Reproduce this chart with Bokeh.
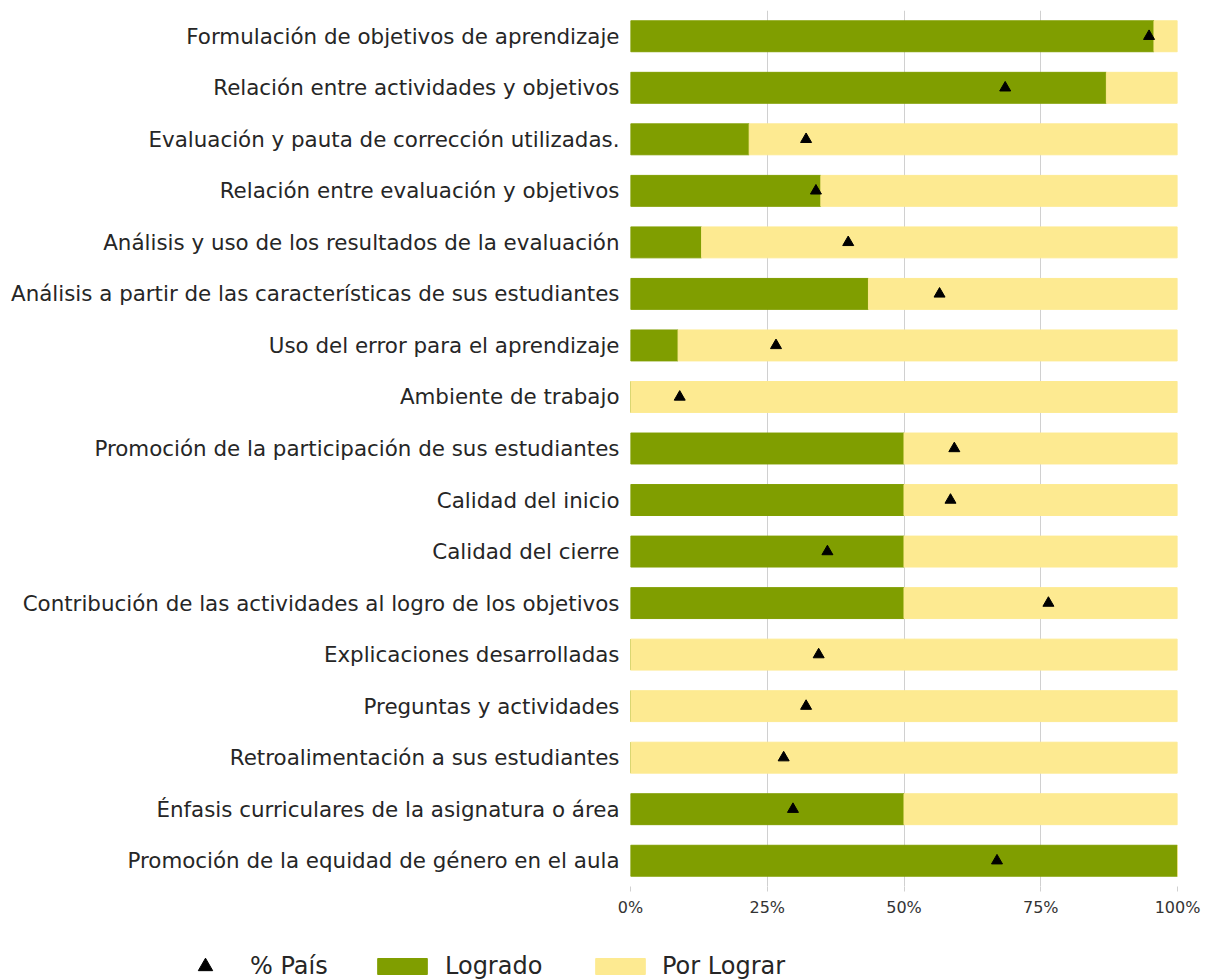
from bokeh.plotting import figure
from bokeh.models import ColumnDataSource, Legend, LegendItem, FactorRange, Range1d, FixedTicker
from bokeh.embed import file_html
from bokeh.resources import INLINE

categories = [
    "Formulación de objetivos de aprendizaje",
    "Relación entre actividades y objetivos",
    "Evaluación y pauta de corrección utilizadas.",
    "Relación entre evaluación y objetivos",
    "Análisis y uso de los resultados de la evaluación",
    "Análisis a partir de las características de sus estudiantes",
    "Uso del error para el aprendizaje",
    "Ambiente de trabajo",
    "Promoción de la participación de sus estudiantes",
    "Calidad del inicio",
    "Calidad del cierre",
    "Contribución de las actividades al logro de los objetivos",
    "Explicaciones desarrolladas",
    "Preguntas y actividades",
    "Retroalimentación a sus estudiantes",
    "Énfasis curriculares de la asignatura o área",
    "Promoción de la equidad de género en el aula",
]
logrado = [95.7, 87.0, 21.7, 34.8, 13.0, 43.5, 8.7, 0, 50, 50, 50, 50, 0, 0, 0, 50, 100]
por_lograr = [4.3, 13.0, 78.3, 65.2, 87.0, 56.5, 91.3, 100, 50, 50, 50, 50, 100, 100, 100, 50, 0]
pais = [94.8, 68.5, 32.1, 33.9, 39.8, 56.5, 26.6, 9.0, 59.2, 58.5, 36.0, 76.4, 34.4, 32.1, 28.0, 29.7, 67.0]
tick_values = [0, 25, 50, 75, 100]
tick_labels = ["0%", "25%", "50%", "75%", "100%"]
legend_labels = ["% País", "Logrado", "Por Lograr"]

GREEN = "#809E00"
YELLOW = "#FDEA91"
FONT = "DejaVu Sans"
TEXT = "#262626"

src = ColumnDataSource(dict(cat=categories, logrado=logrado, por_lograr=por_lograr, pais=pais))

p = figure(
    width=1216, height=920,
    y_range=FactorRange(factors=list(reversed(categories))),
    x_range=Range1d(0, 100),
    output_backend="svg", toolbar_location=None,
    min_border_left=630, min_border_right=39, min_border_top=10, min_border_bottom=34,
)
p.outline_line_color = None
p.background_fill_color = "white"
p.border_fill_color = "white"

bars = p.hbar_stack(["logrado", "por_lograr"], y="cat", height=0.6, color=[GREEN, YELLOW], source=src)
tri = p.scatter(x="pais", y="cat", marker="triangle", size=11, color="black", source=src)

p.xaxis.ticker = FixedTicker(ticks=tick_values)
p.xaxis.major_label_overrides = {v: l for v, l in zip(tick_values, tick_labels)}
p.xaxis.axis_line_color = None
p.xaxis.major_tick_line_color = "#d0d0d0"
p.xaxis.major_tick_out = 5
p.xaxis.major_tick_in = 0
p.xaxis.minor_tick_line_color = None
p.xaxis.major_label_text_font = FONT
p.xaxis.major_label_text_font_size = "16px"
p.xaxis.major_label_text_color = "#333333"
p.xaxis.major_label_standoff = 6

p.yaxis.axis_line_color = None
p.yaxis.major_tick_line_color = None
p.yaxis.minor_tick_line_color = None
p.yaxis.major_label_text_font = FONT
p.yaxis.major_label_text_font_size = "21.4px"
p.yaxis.major_label_text_color = TEXT
p.yaxis.major_label_standoff = 5

p.xgrid.grid_line_color = "#d0d0d0"
p.xgrid.grid_line_width = 1
p.ygrid.grid_line_color = None

# legend strip below the chart (separate root, frame covers the whole strip)
lp = figure(
    width=1216, height=60, x_range=Range1d(0, 1), y_range=Range1d(0, 1),
    x_axis_type=None, y_axis_type=None, output_backend="svg", toolbar_location=None,
    min_border=0, min_border_left=0, min_border_right=0, min_border_top=0, min_border_bottom=0,
)
lp.outline_line_color = None
lp.grid.grid_line_color = None
lp.border_fill_color = "white"
# hidden samples (outside the strip's range) so that the legend draws the glyphs
lg_tri = lp.scatter(x=[-5], y=[-5], marker="triangle", color="black")
lg_g = lp.hbar(y=[-5], right=[1], height=0.6, color=GREEN)
lg_y = lp.hbar(y=[-5], right=[1], height=0.6, color=YELLOW)


def make_legend(item, loc, gw, gh, lh, standoff):
    lg = Legend(items=[item], location=loc, orientation="horizontal",
                glyph_width=gw, glyph_height=gh, label_height=lh, label_standoff=standoff,
                label_text_font=FONT, label_text_font_size="24px",
                label_text_color=TEXT, padding=0, margin=0,
                border_line_color=None, background_fill_alpha=0)
    lp.add_layout(lg, "center")
    return lg

make_legend(LegendItem(label=legend_labels[0], renderers=[lg_tri]), (187, -4), 36, 36, 36, 27)
make_legend(LegendItem(label=legend_labels[1], renderers=[lg_g]), (371, 0), 62, 20, 28, 12)
make_legend(LegendItem(label=legend_labels[2], renderers=[lg_y]), (589, 0), 62, 20, 28, 11)

open("out.html", "w").write(file_html([p, lp], INLINE))
